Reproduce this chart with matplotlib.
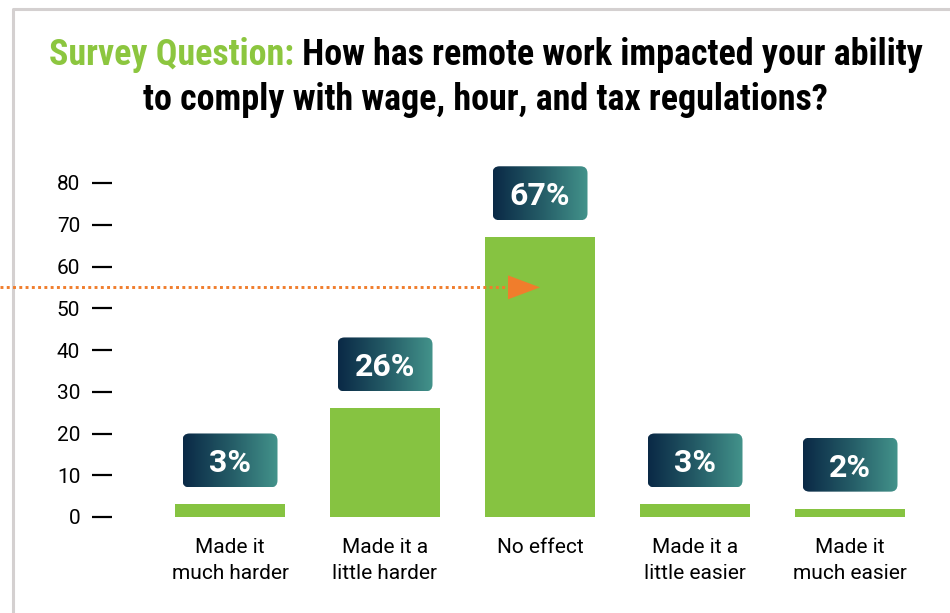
import matplotlib
matplotlib.use("Agg")
import matplotlib.pyplot as plt
import numpy as np
from matplotlib import font_manager
from matplotlib.patches import FancyBboxPatch, Polygon
from matplotlib.lines import Line2D
from matplotlib.colors import LinearSegmentedColormap
from matplotlib.transforms import IdentityTransform

categories = ["Made it\nmuch harder", "Made it a\nlittle harder", "No effect",
              "Made it a\nlittle easier", "Made it\nmuch easier"]
shares = [3, 26, 67, 3, 2]
share_labels = ["3%", "26%", "67%", "3%", "2%"]
y_ticks = [0, 10, 20, 30, 40, 50, 60, 70, 80]
arrow_level = 55
arrow_target = 2

title_lead = "Survey Question:"
title_line1 = " How has remote work impacted your ability"
title_line2 = "to comply with wage, hour, and tax regulations?"

GREEN = "#86c341"
TITLE_GREEN = "#8cc63f"
ORANGE = "#f07d2c"
box_cmap = LinearSegmentedColormap.from_list("box", ["#0a2946", "#245b66", "#43938b"])

plt.rcParams["font.family"] = ["Roboto", "DejaVu Sans"]


def narrow_bold_font():
    # look for a condensed bold face for the title, else plain Roboto bold
    wanted = ["Roboto Condensed", "Liberation Sans Narrow", "DejaVu Sans"]
    for name in wanted:
        for f in font_manager.fontManager.ttflist:
            bold = f.weight in ("bold", 700, 600, "semibold", "demibold") or \
                (isinstance(f.weight, int) and f.weight >= 600)
            narrow = "condensed" in str(f.stretch) or "Narrow" in f.name or \
                "Condensed" in f.fname or "Narrow" in f.fname
            if f.name == name and bold and narrow:
                return font_manager.FontProperties(fname=f.fname)
    return font_manager.FontProperties(family="Roboto", weight="bold")


W, H = 950, 613
fig = plt.figure(figsize=(W / 100, H / 100), dpi=100)
fig.patch.set_facecolor("white")

# axes placed in pixels: y=0 at 517px, 80 at 183px from top
ax = fig.add_axes([112 / W, (H - 517) / H, (930 - 112) / W, (517 - 150) / H])
unit = (517 - 183) / 80
xlim = ((112 - 230) / 155, (930 - 230) / 155)
ylim = (0, (517 - 150) / unit)
ax.set_xlim(*xlim)
ax.set_ylim(*ylim)

ax.bar(range(len(shares)), shares, width=110 / 155, color=GREEN, zorder=2)

for s in ax.spines.values():
    s.set_visible(False)
ax.set_yticks(y_ticks)
ax.tick_params(axis="y", length=14.4, width=1.6, direction="out", pad=8.5,
               labelsize=15, colors="black")
ax.set_xticks(range(len(categories)), categories, linespacing=1.5)
ax.tick_params(axis="x", length=0, pad=15, labelsize=15)

# gradient value boxes above the bars
grad = np.linspace(0, 1, 256).reshape(1, -1)
for i, (v, lab) in enumerate(zip(shares, share_labels)):
    cx, top = ax.transData.transform((i, v))
    x0, y0, bw, bh = cx - 47.5, top + 17, 95, 54
    clip = FancyBboxPatch((x0, y0), bw, bh, boxstyle="round,pad=0,rounding_size=7",
                          transform=IdentityTransform(), facecolor="none", edgecolor="none")
    im = ax.imshow(grad, extent=(x0, x0 + bw, y0, y0 + bh), transform=IdentityTransform(),
                   cmap=box_cmap, aspect="auto", interpolation="bilinear", zorder=3)
    im.set_clip_path(clip)
    ax.text(cx, y0 + bh / 2, lab, transform=IdentityTransform(), ha="center",
            va="center_baseline", color="white", fontsize=23, fontweight="bold", zorder=4)

ax.set_xlim(*xlim)
ax.set_ylim(*ylim)

# dotted pointer into the "No effect" bar
tip_x, tip_y = ax.transData.transform((arrow_target, arrow_level))
fig.add_artist(Line2D([0, tip_x - 35], [tip_y, tip_y], transform=IdentityTransform(),
                      color=ORANGE, lw=2.1, linestyle=(0, (1.0, 1.15)),
                      dash_capstyle="butt", zorder=5))
fig.add_artist(Polygon([[tip_x, tip_y], [tip_x - 32, tip_y + 12], [tip_x - 32, tip_y - 12]],
                       closed=True, transform=IdentityTransform(), facecolor=ORANGE,
                       edgecolor="none", zorder=6))

# card border
fig.add_artist(Line2D([13, 13, W], [0, H - 9, H - 9], transform=IdentityTransform(),
                      color="#d4d0d0", lw=2.2, zorder=1))

# title, first line split into green lead + black question
title_font = narrow_bold_font()
renderer = fig.canvas.get_renderer()
tkw = dict(fontproperties=title_font, transform=IdentityTransform(), va="baseline")
t_lead = fig.text(0, H - 65, title_lead, color=TITLE_GREEN, **tkw)
t_rest = fig.text(0, H - 65, title_line1, color="black", **tkw)
t_two = fig.text(485, H - 110, title_line2, color="black", ha="center", **tkw)

# size the title so the first line spans about 878 px
title_font.set_size(23)
for t in (t_lead, t_rest, t_two):
    t.set_fontproperties(title_font)
w = t_lead.get_window_extent(renderer).width + t_rest.get_window_extent(renderer).width
title_font.set_size(23 * 878 / w)
for t in (t_lead, t_rest, t_two):
    t.set_fontproperties(title_font)
w_lead = t_lead.get_window_extent(renderer).width
w_rest = t_rest.get_window_extent(renderer).width
start = 486 - (w_lead + w_rest) / 2
t_lead.set_x(start)
t_rest.set_x(start + w_lead)

fig.savefig("out.png", dpi=100)
